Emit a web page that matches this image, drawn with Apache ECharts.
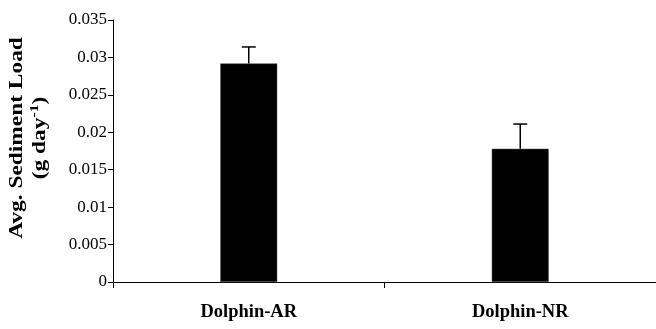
<!DOCTYPE html>
<html><head><meta charset="utf-8">
<script src="https://cdn.jsdelivr.net/npm/echarts@6/dist/echarts.min.js"></script>
<style>html,body{margin:0;padding:0;background:#fff}#c{width:656px;height:329px}</style>
</head><body><div id="c"></div>
<script>
const categories = ['Dolphin-AR', 'Dolphin-NR'];
const means = [0.0292, 0.0178];
const upperErrors = [0.0314, 0.0211];
const yTicks = ['0', '0.005', '0.01', '0.015', '0.02', '0.025', '0.03', '0.035'];
const yTitleLine1 = 'Avg. Sediment Load';
const yTitleLine2 = ['(g day', '-1', ')'];

const chart = echarts.init(document.getElementById('c'));
const serif = '"Liberation Serif", "Times New Roman", serif';
chart.setOption({
  animation: false,
  grid: { left: 113, right: -4, top: 20, bottom: 47 },
  xAxis: {
    type: 'category', data: categories,
    axisLine: { lineStyle: { color: '#000', width: 1 } },
    axisTick: { show: true, length: 6, alignWithLabel: false, lineStyle: { color: '#000' } },
    axisLabel: { fontFamily: serif, fontWeight: 'bold', fontSize: 18.5, color: '#000', margin: 21 }
  },
  yAxis: {
    type: 'value', min: 0, max: 0.035, interval: 0.005,
    axisLine: { show: true, lineStyle: { color: '#000', width: 1 } },
    axisTick: { show: true, length: 5, lineStyle: { color: '#000' } },
    splitLine: { show: false },
    axisLabel: {
      fontFamily: serif, fontSize: 17, color: '#000', margin: 6,
      formatter: (v) => { const i = Math.round(v / 0.005); return yTicks[i]; }
    }
  },
  graphic: [{
    type: 'text',
    x: 29, y: 138,
    rotation: Math.PI / 2,
    scaleX: 1.3,
    style: {
      text: '{a|' + yTitleLine1 + '}\n{a|' + yTitleLine2[0] + '}{s|' + yTitleLine2[1] + '}{a|' + yTitleLine2[2] + '}',
      align: 'center', verticalAlign: 'middle',
      rich: {
        a: { fontFamily: serif, fontWeight: 'bold', fontSize: 18, fill: '#000', lineHeight: 23, align: 'center' },
        s: { fontFamily: serif, fontWeight: 'bold', fontSize: 12, fill: '#000', lineHeight: 23, verticalAlign: 'top', padding: [0, 0, 8, 0] }
      }
    }
  }],
  series: [
    {
      type: 'bar', data: means, barWidth: 57,
      itemStyle: { color: '#000', borderColor: '#555', borderWidth: 0.5 }
    },
    {
      type: 'custom', z: 1,
      data: upperErrors.map((u, i) => [i, means[i], u]),
      renderItem: (params, api) => {
        const base = api.coord([api.value(0), api.value(1)]);
        const top = api.coord([api.value(0), api.value(2)]);
        const hw = 7;
        return {
          type: 'group',
          children: [
            { type: 'line', shape: { x1: base[0], y1: base[1], x2: top[0], y2: top[1] }, style: { stroke: '#000', lineWidth: 1.5 } },
            { type: 'line', shape: { x1: top[0] - hw, y1: top[1], x2: top[0] + hw, y2: top[1] }, style: { stroke: '#000', lineWidth: 1.5 } }
          ]
        };
      }
    }
  ]
});
</script></body></html>
